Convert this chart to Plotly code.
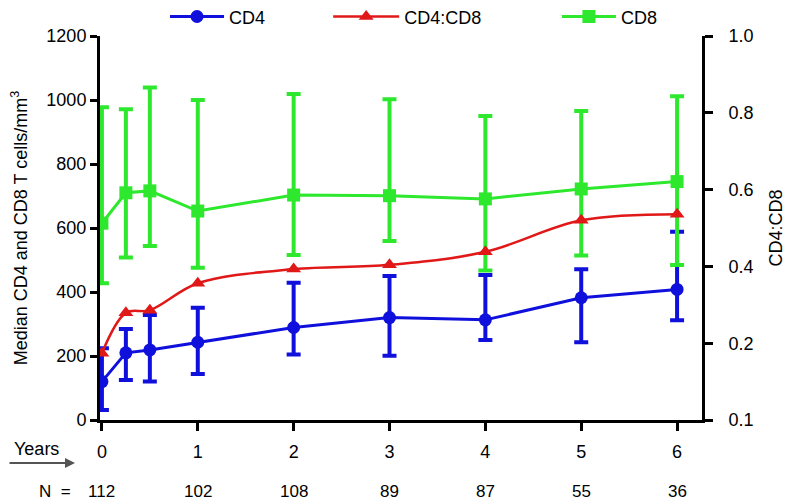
import plotly.graph_objects as go

years = [0, 0.25, 0.5, 1, 2, 3, 4, 5, 6]

cd4 = [120, 210, 219, 243, 289, 320, 313, 382, 408]
cd4_hi = [224, 284, 328, 351, 429, 450, 453, 471, 588]
cd4_lo = [31, 125, 120, 144, 205, 201, 250, 243, 312]

cd8 = [615, 710, 716, 653, 703, 701, 691, 722, 745]
cd8_hi = [977, 971, 1039, 1000, 1019, 1002, 950, 966, 1012]
cd8_lo = [427, 508, 544, 476, 516, 559, 467, 514, 484]

ratio = [0.174, 0.279, 0.286, 0.356, 0.393, 0.404, 0.438, 0.52, 0.536]

n_years = [0, 1, 2, 3, 4, 5, 6]
n_counts = ["112", "102", "108", "89", "87", "55", "36"]

left_ticks = [0, 200, 400, 600, 800, 1000, 1200]
right_tickvals = [0, 0.2, 0.4, 0.6, 0.8, 1.0]
right_ticktext = ["0.1", "0.2", "0.4", "0.6", "0.8", "1.0"]

BLUE = "#1010dc"
RED = "#e01818"
GREEN = "#2ee82e"
FONT = "Liberation Sans, Arial, sans-serif"


def err(vals, hi, lo, color):
    return dict(type="data", symmetric=False,
                array=[h - v for h, v in zip(hi, vals)],
                arrayminus=[v - l for v, l in zip(vals, lo)],
                color=color, thickness=4, width=7)


fig = go.Figure()

fig.add_trace(go.Scatter(x=years, y=cd4, name="CD4", mode="lines+markers",
                         line=dict(color=BLUE, width=3),
                         marker=dict(symbol="circle", size=13, color=BLUE),
                         error_y=err(cd4, cd4_hi, cd4_lo, BLUE),
                         legend="legend"))
fig.add_trace(go.Scatter(x=years, y=cd8, name="CD8", mode="lines+markers",
                         line=dict(color=GREEN, width=3),
                         marker=dict(symbol="square", size=13, color=GREEN),
                         error_y=err(cd8, cd8_hi, cd8_lo, GREEN),
                         legend="legend3"))
fig.add_trace(go.Scatter(x=years, y=ratio, name="CD4:CD8", mode="lines+markers",
                         yaxis="y2",
                         line=dict(color=RED, width=2.5, shape="spline"),
                         marker=dict(symbol="triangle-up", size=13, color=RED),
                         legend="legend2"))

axis_common = dict(showline=True, linecolor="black", linewidth=3,
                   ticks="outside", tickwidth=3, tickcolor="black",
                   showgrid=False, zeroline=False, automargin=False,
                   tickfont=dict(family=FONT, size=18, color="black"))

leg = dict(y=1.05, xanchor="left", yanchor="middle", orientation="h",
           font=dict(size=18), bgcolor="rgba(0,0,0,0)")

# the page has an 8px body margin, so the figure is 8px smaller and shifted
fig.update_layout(
    width=785, height=493,
    margin=dict(l=92, r=91, t=28, b=81, autoexpand=False),
    paper_bgcolor="white", plot_bgcolor="white",
    font=dict(family=FONT, size=17, color="black"),
    showlegend=True,
    xaxis=dict(range=[-0.02, 6.26], tickvals=n_years, ticklen=8,
               ticklabelstandoff=5, **axis_common),
    yaxis=dict(range=[0, 1200], tickvals=left_ticks, ticklen=7,
               title=dict(text="Median CD4 and CD8 T cells/mm<sup>3</sup>",
                          font=dict(size=18), standoff=26),
               **axis_common),
    yaxis2=dict(range=[0, 1.0], overlaying="y", side="right",
                tickvals=right_tickvals, ticktext=right_ticktext, ticklen=8,
                ticklabelstandoff=12,
                title=dict(text="CD4:CD8", font=dict(size=18), standoff=17),
                **axis_common),
    legend=dict(x=0.108, itemwidth=54, **leg),
    legend2=dict(x=0.379, itemwidth=66, **leg),
    legend3=dict(x=0.759, itemwidth=54, **leg),
)

fig.add_annotation(text="Years", xref="paper", yref="paper", x=-0.105, y=-0.0755,
                   xanchor="center", yanchor="middle", showarrow=False,
                   font=dict(size=18))
fig.add_annotation(text="", xref="paper", yref="paper", x=-0.0415, y=-0.112,
                   ax=-68, ay=0, showarrow=True, arrowhead=2, arrowsize=1,
                   arrowwidth=2, arrowcolor="#555555")
fig.add_annotation(text="N  =", xref="paper", yref="paper", x=-0.075, y=-0.185,
                   xanchor="center", yanchor="middle", showarrow=False,
                   font=dict(size=17))
for yr, n in zip(n_years, n_counts):
    fig.add_annotation(text=n, xref="x", yref="paper", x=yr, y=-0.185,
                       xanchor="center", yanchor="middle", showarrow=False,
                       font=dict(size=17))

fig.write_html("out.html")
